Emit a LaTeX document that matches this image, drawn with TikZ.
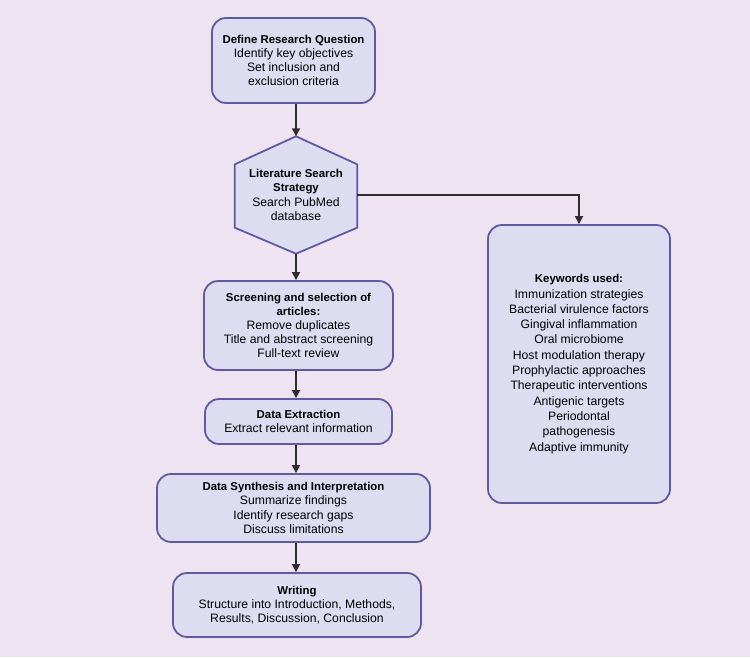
\documentclass[tikz,border=0pt]{standalone}
\usepackage{fontspec}
\setmainfont{Liberation Sans}
\usetikzlibrary{calc,arrows.meta}

\definecolor{bgcol}{RGB}{238,228,241}
\definecolor{boxfill}{RGB}{221,220,240}
\definecolor{boxline}{RGB}{96,90,160}
\definecolor{arrcol}{RGB}{45,45,45}

\newcommand{\hd}[1]{{\fontsize{11.4}{14.2}\selectfont\bfseries #1}}

\tikzset{
  box/.style={draw=boxline, fill=boxfill, line width=1.8pt, rounded corners=14pt,
    align=center, inner sep=0pt, font=\fontsize{12.2}{14.2}\selectfont},
  arr/.style={draw=arrcol, line width=1.6pt, -{Triangle[length=8pt,width=8pt]}},
}

\begin{document}
\begin{tikzpicture}[x=1pt,y=-1pt]
\fill[bgcol] (0,0) rectangle (750,657);
\useasboundingbox (0,0) rectangle (750,657);

\node[box, minimum width=163pt, minimum height=85pt] (question) at (293.5,60.5)
  {\hd{Define Research Question}\\Identify key objectives\\Set inclusion and\\exclusion criteria};

% hexagon
\node[inner sep=0pt, minimum width=122pt, minimum height=117pt] (search) at (296,195) {};
\draw[draw=boxline, fill=boxfill, line width=1.8pt, line join=round]
  (search.north) -- ($(search.north east)+(0,28)$) -- ($(search.south east)+(0,-26)$)
  -- (search.south) -- ($(search.south west)+(0,-26)$) -- ($(search.north west)+(0,28)$) -- cycle;
\node[align=center, font=\fontsize{12.2}{14.2}\selectfont] at (search)
  {\hd{Literature Search}\\\hd{Strategy}\\Search PubMed\\database};

\node[box, minimum width=189pt, minimum height=89pt] (screening) at (298.5,325.5)
  {\hd{Screening and selection of}\\\hd{articles:}\\Remove duplicates\\Title and abstract screening\\Full-text review};

\node[box, minimum width=187pt, minimum height=45pt] (extraction) at (298.5,421.5)
  {\hd{Data Extraction}\\Extract relevant information};

\node[box, minimum width=273pt, minimum height=68pt] (synthesis) at (293.5,508)
  {\hd{Data Synthesis and Interpretation}\\Summarize findings\\Identify research gaps\\Discuss limitations};

\node[box, minimum width=248pt, minimum height=64pt] (writing) at (297,605)
  {\hd{Writing}\\Structure into Introduction, Methods,\\Results, Discussion, Conclusion};

\node[box, minimum width=182pt, minimum height=278pt, font=\fontsize{12.2}{15.3}\selectfont] (keywords) at (579,364)
  {\hd{Keywords used:}\\Immunization strategies\\Bacterial virulence factors\\Gingival inflammation\\Oral microbiome\\Host modulation therapy\\Prophylactic approaches\\Therapeutic interventions\\Antigenic targets\\Periodontal\\pathogenesis\\Adaptive immunity};

\draw[arr] (question.south -| search.north) -- (search.north);
\draw[arr] (search.south) -- (search.south |- screening.north);
\draw[arr] (search.south |- screening.south) -- (search.south |- extraction.north);
\draw[arr] (search.south |- extraction.south) -- (search.south |- synthesis.north);
\draw[arr] (search.south |- synthesis.south) -- (search.south |- writing.north);
\draw[arr] (search.east) -| (keywords.north);
\end{tikzpicture}
\end{document}
